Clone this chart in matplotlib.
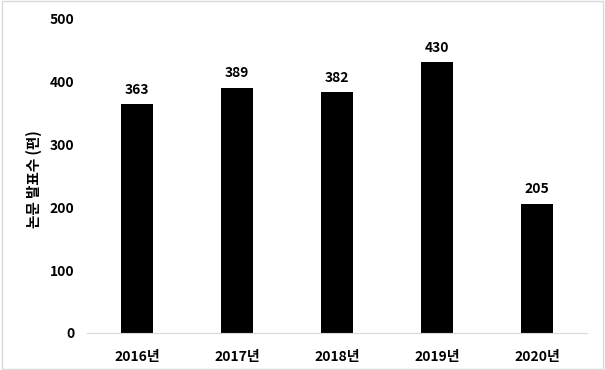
import matplotlib
matplotlib.use("Agg")
import matplotlib.pyplot as plt
from matplotlib.patches import Rectangle

plt.rcParams['font.family'] = ['Noto Sans CJK KR', 'DejaVu Sans']

# 연도별 논문 발표수
years = ['2016년', '2017년', '2018년', '2019년', '2020년']
counts = [363, 389, 382, 430, 205]
yticks = [0, 100, 200, 300, 400, 500]

fig = plt.figure(figsize=(6.05, 3.70), dpi=100)
ax = fig.add_axes([0.144, 0.1, 0.826, 0.851])

bars = ax.bar(range(len(years)), counts, width=0.32, color='black')
for x, v in enumerate(counts):
    ax.text(x, v + 12, str(v), ha='center', va='bottom',
            fontsize=10, fontweight='bold')

ax.set_xlim(-0.5, len(years) - 0.5)
ax.set_ylim(0, 500)
ax.set_yticks(yticks)
ax.set_xticks(range(len(years)))
ax.set_xticklabels(years, fontsize=10, fontweight='bold')
ax.set_yticklabels([str(t) for t in yticks], fontsize=10, fontweight='bold')
ax.tick_params(axis='y', length=0, pad=9)
ax.tick_params(axis='x', length=0, pad=12)
ax.set_ylabel('논문 발표수 (편)', fontsize=10.5, fontweight='bold')
ax.yaxis.set_label_coords(-0.09, 0.49)

for s in ['top', 'right', 'left']:
    ax.spines[s].set_visible(False)
ax.spines['bottom'].set_color('#d9d9d9')

# 바깥 테두리
fig.patches.append(Rectangle((0.003, 0.004), 0.994, 0.992, transform=fig.transFigure,
                             fill=False, edgecolor='#d9d9d9', linewidth=1))

fig.savefig('out.png', dpi=100)
